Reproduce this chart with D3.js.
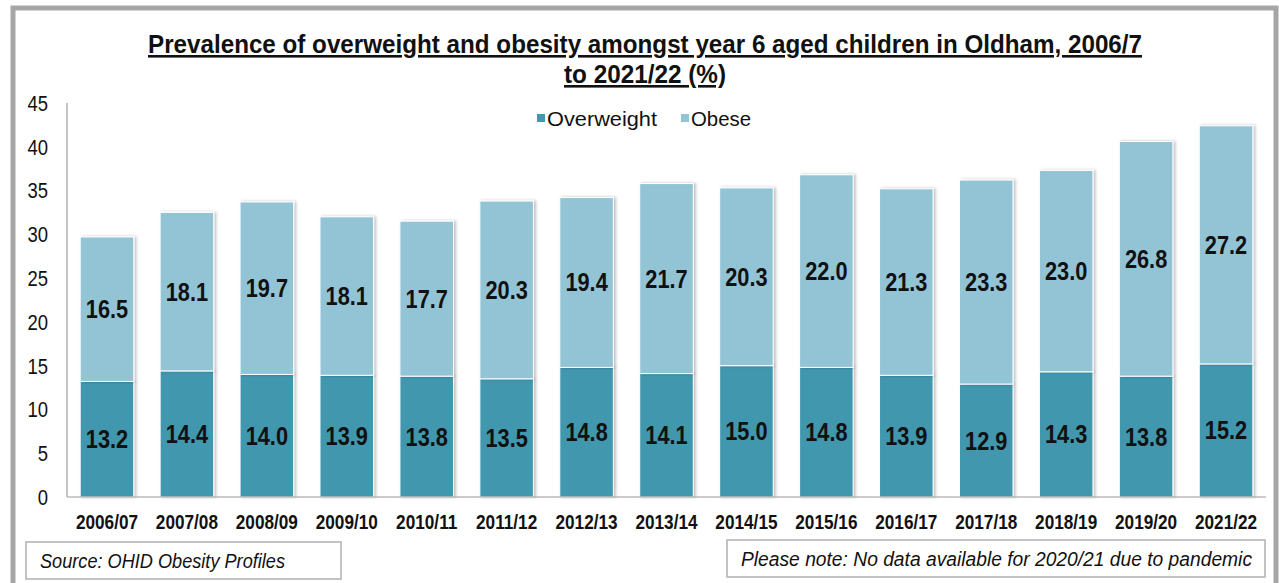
<!DOCTYPE html>
<html>
<head>
<meta charset="utf-8">
<script src="https://cdn.jsdelivr.net/npm/d3@7"></script>
<style>
  body { margin: 0; background: #fff; }
  svg { display: block; }
  text { font-family: "Liberation Sans", Arial, sans-serif; fill: #111; }
</style>
</head>
<body>
<div id="chart"></div>
<script>
// chart data
let years = ["2006/07","2007/08","2008/09","2009/10","2010/11","2011/12","2012/13","2013/14",
             "2014/15","2015/16","2016/17","2017/18","2018/19","2019/20","2021/22"]
let overweight = [13.2,14.4,14.0,13.9,13.8,13.5,14.8,14.1,15.0,14.8,13.9,12.9,14.3,13.8,15.2]
let obese = [16.5,18.1,19.7,18.1,17.7,20.3,19.4,21.7,20.3,22.0,21.3,23.3,23.0,26.8,27.2]
let yTicks = [0,5,10,15,20,25,30,35,40,45]
let seriesNames = ["Overweight","Obese"]
let colours = ["#4197ae", "#93c4d6"]

let svgWidth = 1279
let svgHeight = 583

let svg = d3.select('#chart')
    .append('svg')
    .attr('width', svgWidth)
    .attr('height', svgHeight)

// the reference font is a condensed one, so squash the text horizontally
function squash(sel, sx) {
    sel.attr('transform', function() {
        let t = d3.select(this)
        return `translate(${t.attr('x')},${t.attr('y')}) scale(${sx},1)`
    }).attr('x', 0).attr('y', 0)
}

// outer grey frame
svg.append('path')
    .attr('d', 'M13,583 V8 H1276 V583')
    .attr('fill', 'none')
    .attr('stroke', '#a6a6a6')
    .attr('stroke-width', 5)

// shadow filter for bars
let defs = svg.append('defs')
let f = defs.append('filter').attr('id', 'shadow').attr('x', '-10%').attr('y', '-5%').attr('width', '130%').attr('height', '110%')
f.append('feDropShadow').attr('dx', 2).attr('dy', 0).attr('stdDeviation', 1.5)
    .attr('flood-color', '#000').attr('flood-opacity', 0.25)

// title
let titleLines = [
    {text: 'Prevalence of overweight and obesity amongst year 6 aged children in Oldham, 2006/7', y: 53, w: 994},
    {text: 'to 2021/22 (%)', y: 83, w: 162}
]
titleLines.forEach(l => {
    svg.append('text')
        .attr('x', 645).attr('y', l.y)
        .attr('text-anchor', 'middle')
        .attr('font-size', 26)
        .attr('font-weight', 'bold')
        .attr('text-decoration', 'underline')
        .attr('textLength', l.w)
        .attr('lengthAdjust', 'spacingAndGlyphs')
        .text(l.text)
})

// scales
let x = d3.scaleBand()
    .domain(years)
    .range([67, 1266])
    .paddingInner(0.33)
    .paddingOuter(0.165)

let y = d3.scaleLinear()
    .domain([0, 45])
    .range([497, 103])

let stackData = years.map((d, i) => ({year: d, Overweight: overweight[i], Obese: obese[i]}))
let stacked = d3.stack().keys(seriesNames)(stackData)

// bars
let groups = svg.append('g')
    .selectAll('g')
    .data(stacked)
    .join('g')

groups.selectAll('rect')
    .data(d => d)
    .join('rect')
    .attr('x', d => x(d.data.year))
    .attr('y', d => y(d[1]))
    .attr('width', x.bandwidth())
    .attr('height', d => y(d[0]) - y(d[1]))
    .attr('fill', function() { return colours[stacked.indexOf(d3.select(this.parentNode).datum())] })
    .attr('stroke', '#fff')
    .attr('stroke-width', 1)
    .attr('filter', 'url(#shadow)')

// value labels
groups.selectAll('text')
    .data(d => d)
    .join('text')
    .attr('x', d => x(d.data.year) + x.bandwidth() / 2)
    .attr('y', d => (y(d[0]) + y(d[1])) / 2)
    .attr('dy', '0.36em')
    .attr('text-anchor', 'middle')
    .attr('font-size', 25)
    .attr('font-weight', 'bold')
    .text(d => (d[1] - d[0]).toFixed(1))
    .call(squash, 0.87)

// y axis labels
svg.append('g')
    .selectAll('text')
    .data(yTicks)
    .join('text')
    .attr('x', 48)
    .attr('y', d => y(d))
    .attr('dy', '0.36em')
    .attr('text-anchor', 'end')
    .attr('font-size', 22)
    .text(d => d)
    .call(squash, 0.84)

svg.append('line')
    .attr('x1', 67).attr('x2', 67)
    .attr('y1', 103).attr('y2', 497)
    .attr('stroke', '#888')

// x axis
svg.append('line')
    .attr('x1', 67).attr('x2', 1266)
    .attr('y1', 497).attr('y2', 497)
    .attr('stroke', '#999')

svg.append('g')
    .selectAll('text')
    .data(years)
    .join('text')
    .attr('x', d => x(d) + x.bandwidth() / 2)
    .attr('y', 529)
    .attr('text-anchor', 'middle')
    .attr('font-size', 20)
    .attr('font-weight', 'bold')
    .text(d => d)
    .call(squash, 0.86)

// legend
let legendX = [537, 681]
let legendW = [110, 60]
seriesNames.forEach((name, i) => {
    svg.append('rect')
        .attr('x', legendX[i]).attr('y', 114)
        .attr('width', 8).attr('height', 8)
        .attr('fill', colours[i])
    svg.append('text')
        .attr('x', legendX[i] + 10).attr('y', 118)
        .attr('dy', '0.36em')
        .attr('font-size', 21)
        .attr('textLength', legendW[i])
        .attr('lengthAdjust', 'spacingAndGlyphs')
        .text(name)
})

// source / note boxes
let notes = [
    {text: 'Source: OHID Obesity Profiles', x: 26, y: 542, w: 315, h: 37, tw: 245},
    {text: 'Please note: No data available for 2020/21 due to pandemic', x: 727, y: 540, w: 538, h: 37, tw: 511}
]
notes.forEach(n => {
    svg.append('rect')
        .attr('x', n.x).attr('y', n.y)
        .attr('width', n.w).attr('height', n.h)
        .attr('fill', '#fff')
        .attr('stroke', '#b0b0b0')
        .attr('stroke-width', 1.5)
    svg.append('text')
        .attr('x', n.x + 14).attr('y', n.y + n.h / 2)
        .attr('dy', '0.36em')
        .attr('font-size', 20)
        .attr('font-style', 'italic')
        .attr('textLength', n.tw)
        .attr('lengthAdjust', 'spacingAndGlyphs')
        .text(n.text)
})
</script>
</body>
</html>
